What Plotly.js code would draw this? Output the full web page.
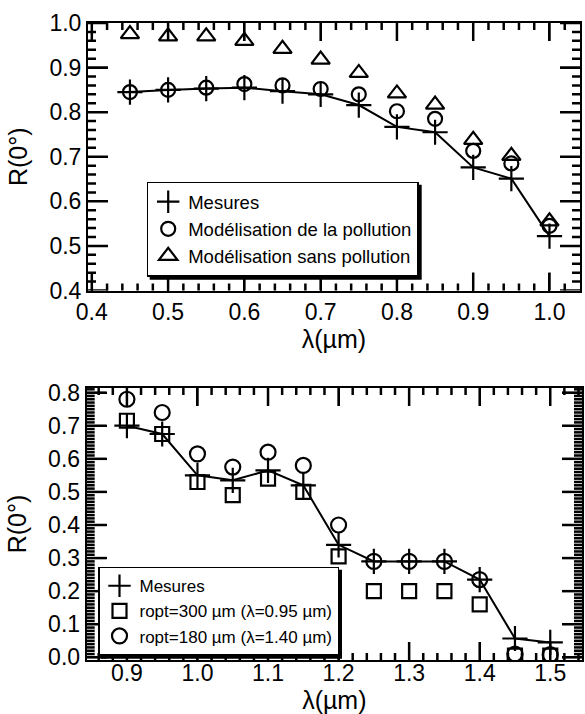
<!DOCTYPE html>
<html>
<head>
<meta charset="utf-8">
<script src="https://cdn.plot.ly/plotly-3.0.1.min.js"></script>
<style>html,body{margin:0;padding:0;background:#fff;}#chart{width:585px;height:714px;}</style>
</head>
<body>
<div id="chart"></div>
<script>
// ---- Top panel data ----
const lambdaTop = [0.45, 0.50, 0.55, 0.60, 0.65, 0.70, 0.75, 0.80, 0.85, 0.90, 0.95, 1.00];
const mesuresTop = [0.845, 0.850, 0.853, 0.855, 0.847, 0.840, 0.816, 0.767, 0.755, 0.676, 0.651, 0.522];
const avecPollution = [0.845, 0.850, 0.855, 0.863, 0.860, 0.852, 0.840, 0.802, 0.785, 0.713, 0.685, 0.545];
const sansPollution = [0.975, 0.970, 0.970, 0.960, 0.942, 0.918, 0.888, 0.842, 0.817, 0.738, 0.702, 0.555];
const legendTop = ["Mesures", "Modélisation de la pollution", "Modélisation sans pollution"];

// ---- Bottom panel data ----
const lambdaBot = [0.90, 0.95, 1.00, 1.05, 1.10, 1.15, 1.20, 1.25, 1.30, 1.35, 1.40, 1.45, 1.50];
const mesuresBot = [0.700, 0.675, 0.550, 0.535, 0.565, 0.520, 0.340, 0.290, 0.290, 0.290, 0.235, 0.057, 0.045];
const ropt300 = [0.715, 0.675, 0.530, 0.490, 0.540, 0.500, 0.305, 0.200, 0.200, 0.200, 0.160, 0.005, 0.005];
const ropt180 = [0.780, 0.740, 0.615, 0.575, 0.620, 0.580, 0.400, 0.290, 0.290, 0.290, 0.235, 0.010, 0.008];
const legendBot = ["Mesures", "ropt=300 µm (λ=0.95 µm)", "ropt=180 µm (λ=1.40 µm)"];

const xTitle = "λ(µm)";
const yTitle = "R(0°)";

const W = 585, H = 714;
const FONT = "Liberation Sans, Arial, Helvetica, sans-serif";
const K = "#000";

// panel frames (paper fractions)
const topX = [88 / W, 580 / W], topY = [1 - 290.5 / H, 1 - 23 / H];
const botX = [86.7 / W, 582 / W], botY = [1 - 660 / H, 1 - 388 / H];
const topXRange = [0.395, 1.04], topYRange = [0.4, 1.0];
const botXRange = [0.843, 1.545], botYRange = [-0.008, 0.814];

function lineTrace(x, y, xa, ya) {
  return {x: x, y: y, xaxis: xa, yaxis: ya, mode: "lines", showlegend: false,
          line: {color: K, width: 2}, hoverinfo: "skip"};
}
function markTrace(x, y, xa, ya, name, symbol, size, lg) {
  return {x: x, y: y, xaxis: xa, yaxis: ya, mode: "markers", name: name, legend: lg,
          marker: {symbol: symbol, size: size, color: K, line: {color: K, width: 2.2}}};
}

const traces = [
  lineTrace(lambdaTop, mesuresTop, "x", "y"),
  markTrace(lambdaTop, mesuresTop, "x", "y", legendTop[0], "cross-thin-open", 18, "legend"),
  markTrace(lambdaTop, avecPollution, "x", "y", legendTop[1], "circle-open", 14, "legend"),
  markTrace(lambdaTop, sansPollution, "x", "y", legendTop[2], "triangle-up-open", 16, "legend"),
  lineTrace(lambdaBot, mesuresBot, "x2", "y2"),
  markTrace(lambdaBot, mesuresBot, "x2", "y2", legendBot[0], "cross-thin-open", 18, "legend2"),
  markTrace(lambdaBot, ropt300, "x2", "y2", legendBot[1], "square-open", 14, "legend2"),
  markTrace(lambdaBot, ropt180, "x2", "y2", legendBot[2], "circle-open", 15, "legend2")
];

function mainAxis(extra) {
  return Object.assign({
    showline: true, linecolor: K, linewidth: 2, mirror: "ticks",
    ticks: "inside", ticklen: 18, tickcolor: K, tickwidth: 2,
    showgrid: false, zeroline: false, tickformat: ".1f",
    tickfont: {family: FONT, size: 23, color: K}
  }, extra);
}

// Inward tick marks on all four frame sides, placed through the axes' own scales
// (x/y in data units, the length as a fraction of the axis domain).
function frameTicks(xa, ya, xStep, xFrom, xTo, xMajorEvery, yStep, yFrom, yTo, yMajorEvery, pw, ph) {
  const out = [];
  for (let i = xFrom; i <= xTo; i++) {
    const v = +(i * xStep).toFixed(4);
    const len = (i % xMajorEvery === 0 ? 18 : 7) / ph;
    out.push({type: "line", xref: xa, yref: ya + " domain", x0: v, x1: v, y0: 0, y1: len,
              line: {color: K, width: 2.5}, layer: "above"});
    out.push({type: "line", xref: xa, yref: ya + " domain", x0: v, x1: v, y0: 1, y1: 1 - len,
              line: {color: K, width: 2.5}, layer: "above"});
  }
  for (let j = yFrom; j <= yTo; j++) {
    const v = +(j * yStep).toFixed(4);
    const len = (j % yMajorEvery === 0 ? 20 : 8) / pw;
    out.push({type: "line", xref: xa + " domain", yref: ya, x0: 0, x1: len, y0: v, y1: v,
              line: {color: K, width: 2.5}, layer: "above"});
    out.push({type: "line", xref: xa + " domain", yref: ya, x0: 1, x1: 1 - len, y0: v, y1: v,
              line: {color: K, width: 2.5}, layer: "above"});
  }
  return out;
}

const tickShapes = [].concat(
  frameTicks("x", "y", 0.02, 20, 51, 5, 0.02, 20, 50, 5,
             (topX[1] - topX[0]) * W, (topY[1] - topY[0]) * H),
  frameTicks("x2", "y2", 0.02, 43, 77, 5, 0.01, 0, 81, 10,
             (botX[1] - botX[0]) * W, (botY[1] - botY[0]) * H)
);

const layout = {
  width: W, height: H,
  margin: {l: 0, r: 0, t: 0, b: 0, pad: 0},
  paper_bgcolor: "#fff", plot_bgcolor: "#fff",
  font: {family: FONT, color: K},
  xaxis: mainAxis({
    domain: topX, range: topXRange, anchor: "y", tick0: 0.4, dtick: 0.1,
    title: {text: xTitle, font: {family: FONT, size: 25, color: K}, standoff: 2}
  }),
  yaxis: mainAxis({
    domain: topY, range: topYRange, anchor: "x", tick0: 0.4, dtick: 0.1, ticklen: 20,
    title: {text: yTitle, font: {family: FONT, size: 25, color: K}}
  }),
  xaxis2: mainAxis({
    domain: botX, range: botXRange, anchor: "y2", tick0: 0.9, dtick: 0.1, ticklabelstandoff: -9,
    title: {text: xTitle, font: {family: FONT, size: 25, color: K}, standoff: 4}
  }),
  yaxis2: mainAxis({
    domain: botY, range: botYRange, anchor: "x2", tick0: 0, dtick: 0.1, ticklen: 20,
    title: {text: yTitle, font: {family: FONT, size: 25, color: K}}
  }),
  shapes: tickShapes,
  legend: {
    x: 146.7 / W, y: 1 - 181.7 / H, xanchor: "left", yanchor: "top",
    bgcolor: "#fff", bordercolor: K, borderwidth: 1.5,
    font: {family: FONT, size: 18.5, color: K}, itemwidth: 30, tracegroupgap: 0
  },
  legend2: {
    x: 98 / W, y: 1 - 566.7 / H, xanchor: "left", yanchor: "top",
    bgcolor: "#fff", bordercolor: K, borderwidth: 1.5,
    font: {family: FONT, size: 17, color: K}, itemwidth: 30, tracegroupgap: 0
  },
  showlegend: true
};

const gd = document.getElementById("chart");
Plotly.newPlot(gd, traces, layout, {staticPlot: true, displayModeBar: false});

(function addShadows() {
  const fl = gd._fullLayout;
  const shadows = [];
  ["legend", "legend2"].forEach(function (id) {
    const lg = fl[id];
    if (!lg || !lg._width) return;
    const off = 3;
    const left = lg.x * W + off, top = (1 - lg.y) * H + off;
    shadows.push({
      type: "rect", xref: "paper", yref: "paper", layer: "above",
      x0: left / W, x1: (left + lg._width) / W,
      y0: 1 - (top + lg._height) / H, y1: 1 - top / H,
      fillcolor: K, line: {width: 0}
    });
  });
  if (shadows.length) Plotly.relayout(gd, {shapes: tickShapes.concat(shadows)});
})();
</script>
</body>
</html>
